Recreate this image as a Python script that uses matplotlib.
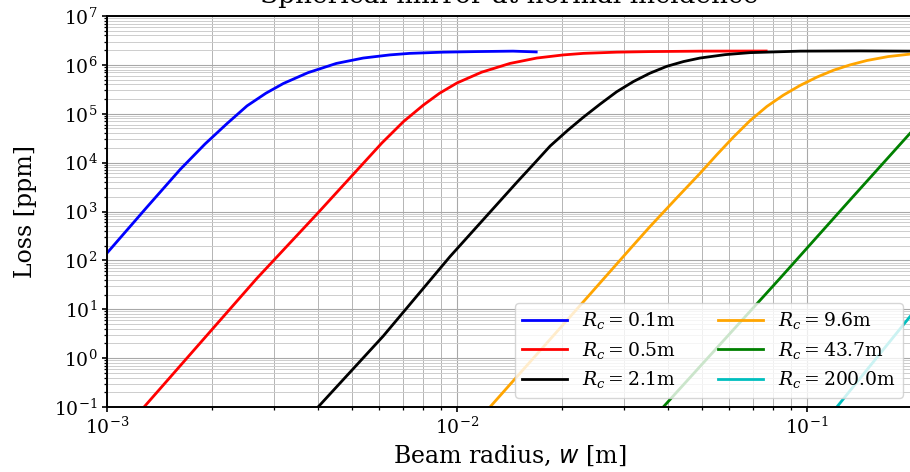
import numpy as np
import matplotlib
matplotlib.use("Agg")
import matplotlib.pyplot as plt
from matplotlib.ticker import LogLocator, NullFormatter
from matplotlib.font_manager import FontProperties

# Values (beam radius w [m], loss [ppm])
radii_labels = ["0.1", "0.5", "2.1", "9.6", "43.7", "200.0"]
colors = ["b", "r", "k", "orange", "g", "c"]

w_01 = [1.0e-3, 1.297e-3, 1.618e-3, 1.905e-3, 2.203e-3, 2.512e-3, 2.844e-3, 3.192e-3,
        3.750e-3, 4.519e-3, 5.395e-3, 6.427e-3, 7.328e-3, 9.120e-3, 1.135e-2,
        1.445e-2, 1.683e-2]
loss_01 = [141, 1202, 7244, 2.40e4, 6.31e4, 1.45e5, 2.63e5, 4.17e5,
           6.92e5, 1.07e6, 1.38e6, 1.60e6, 1.72e6, 1.82e6, 1.87e6,
           1.91e6, 1.84e6]

w_05 = [1.276e-3, 2.679e-3, 3.981e-3, 6.095e-3, 7.031e-3, 8.017e-3, 8.913e-3,
        1.0e-2, 1.175e-2, 1.416e-2, 1.690e-2, 2.014e-2, 2.296e-2, 2.858e-2,
        3.556e-2, 5.012e-2, 7.638e-2]
loss_05 = [0.1, 42.7, 891, 2.51e4, 6.92e4, 1.51e5, 2.63e5,
           4.27e5, 7.08e5, 1.07e6, 1.38e6, 1.60e6, 1.72e6, 1.82e6,
           1.87e6, 1.91e6, 1.92e6]

w_21 = [4.009e-3, 6.152e-3, 9.550e-3, 1.483e-2, 1.660e-2, 1.845e-2, 2.070e-2, 2.296e-2,
        2.564e-2, 2.858e-2, 3.192e-2, 3.556e-2, 3.972e-2, 4.436e-2, 4.943e-2,
        5.834e-2, 6.871e-2, 9.550e-2, 0.1413, 0.1968, 0.2]
loss_21 = [0.1, 2.82, 120, 3980, 9550, 2.19e4, 4.57e4, 8.51e4,
           1.58e5, 2.82e5, 4.57e5, 6.76e5, 9.33e5, 1.17e6, 1.38e6,
           1.62e6, 1.78e6, 1.91e6, 1.93e6, 1.91e6, 1.91e6]

w_96 = [1.242e-2, 1.995e-2, 3.162e-2, 3.556e-2, 4.246e-2, 4.943e-2, 5.521e-2,
        6.152e-2, 6.871e-2, 7.674e-2, 8.551e-2, 9.550e-2, 0.1067, 0.1189,
        0.1327, 0.1483, 0.1706, 0.1968, 0.2]
loss_96 = [0.1, 4.57, 191, 490, 1910, 6030, 1.45e4,
           3.31e4, 7.24e4, 1.41e5, 2.40e5, 3.80e5, 5.62e5, 7.76e5,
           1.0e6, 1.23e6, 1.48e6, 1.66e6, 1.68e6]

w_437 = [3.882e-2, 8.375e-2, 0.1327, 0.1968, 0.2]
loss_437 = [0.1, 43.3, 1730, 3.98e4, 4.47e4]

w_2000 = [0.1216, 0.1968, 0.2]
loss_2000 = [0.1, 7.1, 7.9]

series = [(w_01, loss_01), (w_05, loss_05), (w_21, loss_21),
          (w_96, loss_96), (w_437, loss_437), (w_2000, loss_2000)]

plt.rcParams["font.family"] = "serif"
plt.rcParams["font.serif"] = ["DejaVu Serif"]

fig = plt.figure(figsize=(9.1, 4.72), dpi=100)
ax = fig.add_axes([107 / 910, 65 / 472, 805.5 / 910, 391 / 472])

for (w, loss), lab, c in zip(series, radii_labels, colors):
    ax.plot(w, loss, color=c, lw=2, label=r"$R_c = %s$m" % lab)

ax.set_xscale("log")
ax.set_yscale("log")
ax.set_xlim(1e-3, 0.2)
ax.set_ylim(1e-1, 1e7)

ax.yaxis.set_major_locator(LogLocator(base=10, numticks=20))
ax.yaxis.set_minor_locator(LogLocator(base=10, subs=np.arange(2, 10), numticks=100))
ax.yaxis.set_minor_formatter(NullFormatter())
ax.xaxis.set_minor_locator(LogLocator(base=10, subs=np.arange(2, 10), numticks=100))
ax.xaxis.set_minor_formatter(NullFormatter())

ax.grid(True, which="major", color="#a8a8a8", lw=0.8)
ax.grid(True, which="minor", axis="x", color="#b4b4b4", lw=0.7)
ax.grid(True, which="minor", axis="y", color="#cdcdcd", lw=0.7)
ax.tick_params(labelsize=13.5, width=1.2)
ax.tick_params(which="minor", width=0.9)
for s in ax.spines.values():
    s.set_linewidth(1.4)

ax.set_xlabel(r"Beam radius, $w$ [m]", fontsize=17)
ax.set_ylabel("Loss [ppm]", fontsize=17, labelpad=12)
ax.set_title("Spherical mirror at normal incidence", fontsize=19, pad=9)

legprop = FontProperties(family="serif", size=13.5, math_fontfamily="dejavuserif")
ax.legend(ncol=2, loc="lower right", prop=legprop, handlelength=2.4,
          columnspacing=2.2, labelspacing=0.45)

fig.savefig("out.png", dpi=100)
